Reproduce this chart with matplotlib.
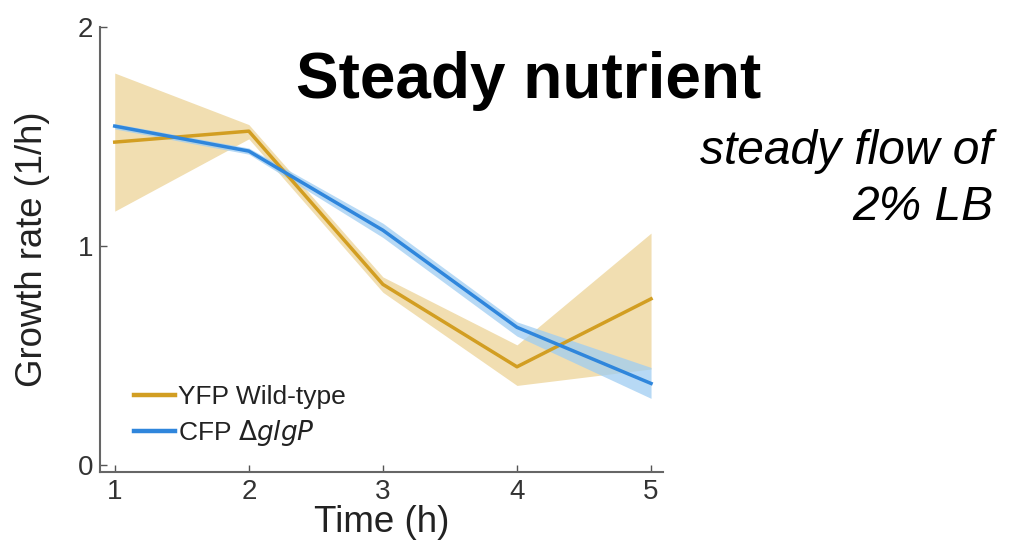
import numpy as np
import matplotlib.pyplot as plt

plt.rcParams['font.family'] = ['Liberation Sans', 'DejaVu Sans']

# growth rate per hour, mean with shaded spread
time_h = [1, 2, 3, 4, 5]
yfp_mean = [1.475, 1.525, 0.826, 0.45, 0.76]
yfp_low = [1.16, 1.49, 0.79, 0.365, 0.44]
yfp_high = [1.79, 1.555, 0.86, 0.55, 1.06]
cfp_mean = [1.548, 1.434, 1.073, 0.63, 0.374]
cfp_low = [1.535, 1.42, 1.04, 0.59, 0.306]
cfp_high = [1.56, 1.448, 1.105, 0.655, 0.447]

yticks = [0, 1, 2]
xticks = [1, 2, 3, 4, 5]

fig = plt.figure(figsize=(10.11, 5.46), dpi=100)
ax = fig.add_axes([0.0989, 0.1355, 0.557, 0.815])

ax.fill_between(time_h, yfp_low, yfp_high, color='#f1deb1', lw=0, zorder=1)
ax.fill_between(time_h, cfp_low, cfp_high, color='#9fcdf2', alpha=0.75, lw=0, zorder=2)
ax.plot(time_h, yfp_mean, color='#d29e22', lw=2.5, label='YFP Wild-type', zorder=3)
ax.plot(time_h, cfp_mean, color='#2f86dc', lw=2.5, label=r'CFP $\Delta$$\it{glgP}$', zorder=4)

ax.set_xlim(0.89, 5.09)
ax.set_ylim(-0.03, 2)
ax.set_xticks(xticks)
ax.set_yticks(yticks)
ax.tick_params(direction='in', length=5, width=1, colors='#555555', labelcolor='#333333',
               labelsize=20, pad=5)
for s in ['top', 'right']:
    ax.spines[s].set_visible(False)
for s in ['left', 'bottom']:
    ax.spines[s].set_color('#666666')
    ax.spines[s].set_linewidth(1.5)

ax.set_xlabel('Time (h)', fontsize=26.5, color='#222222', labelpad=0)
ax.set_ylabel('Growth rate (1/h)', fontsize=26.3, color='#222222', labelpad=20)

leg = ax.legend(loc='lower left', bbox_to_anchor=(0.018, 0.0), frameon=False, fontsize=19,
                handlelength=1.55, handletextpad=0.12, labelspacing=0.35, borderaxespad=0.5)
for line in leg.get_lines():
    line.set_linewidth(3.2)
for t in leg.get_texts():
    t.set_color('#222222')

fig.text(0.523, 0.8205, 'Steady nutrient', fontsize=46, fontweight='bold',
         ha='center', va='baseline', color='black')
fig.text(0.982, 0.597, 'steady flow of\n2% LB', fontsize=34.5, fontstyle='italic',
         ha='right', va='baseline', color='black', linespacing=1.32)

fig.savefig('out.png', dpi=100)
